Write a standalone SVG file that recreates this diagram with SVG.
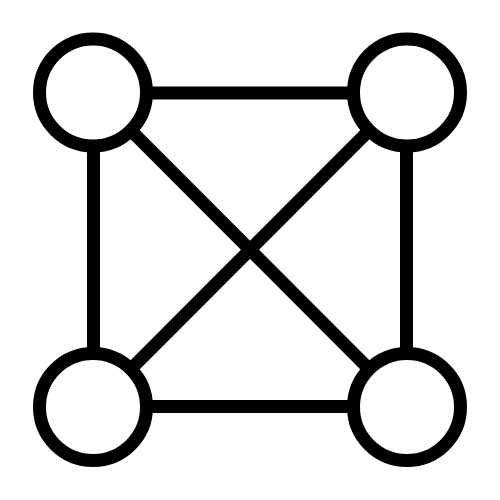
<svg xmlns="http://www.w3.org/2000/svg" width="500" height="500" viewBox="0 0 500 500">
<style>
.edge{stroke:#000;stroke-width:13;fill:none}
.node{stroke:#000;stroke-width:13;fill:#fff}
</style>
<rect width="500" height="500" fill="#fff"/>
<g id="connectors">
<line class="edge" x1="93.5" y1="93" x2="406.5" y2="93"/>
<line class="edge" x1="93.5" y1="406.5" x2="406.5" y2="406.5"/>
<line class="edge" x1="93.5" y1="93" x2="93.5" y2="406.5"/>
<line class="edge" x1="406.5" y1="93" x2="406.5" y2="406.5"/>
<line class="edge" x1="93.5" y1="93" x2="406.5" y2="406.5"/>
<line class="edge" x1="406.5" y1="93" x2="93.5" y2="406.5"/>
</g>
<g id="node-tl"><circle class="node" cx="93" cy="92.5" r="53.5"/></g>
<g id="node-tr"><circle class="node" cx="407" cy="92.5" r="53.5"/></g>
<g id="node-bl"><circle class="node" cx="93" cy="407" r="53.5"/></g>
<g id="node-br"><circle class="node" cx="407" cy="407" r="53.5"/></g>
</svg>
